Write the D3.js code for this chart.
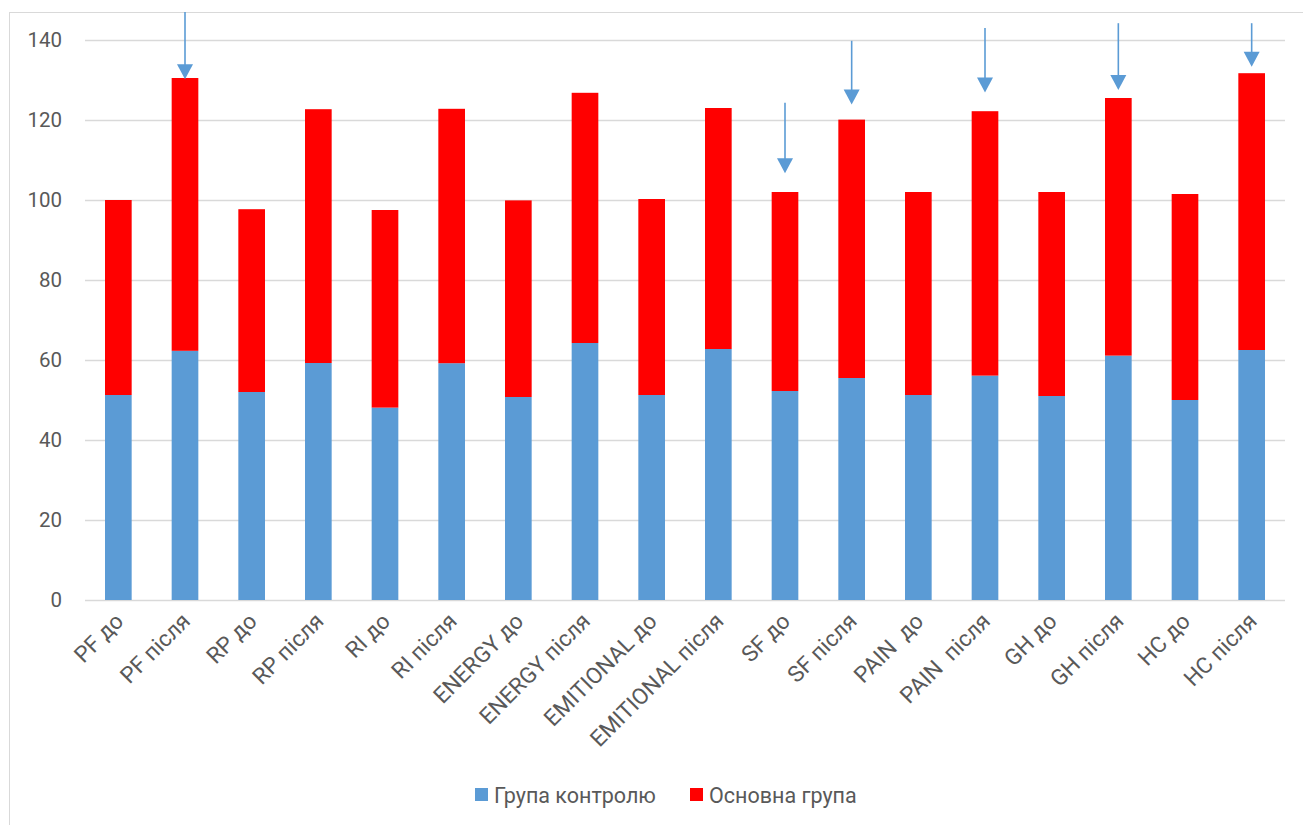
<!DOCTYPE html>
<html>
<head>
<meta charset="utf-8">
<script src="https://cdn.jsdelivr.net/npm/d3@7"></script>
<style>
  html, body { margin: 0; padding: 0; background: #fff; }
  svg { display: block; }
  text { font-family: Roboto, "Noto Sans", sans-serif; fill: #595959; white-space: pre; }
</style>
</head>
<body>
<svg id="chart" width="1303" height="825"></svg>
<script>
// ---- data ----
const categories = [
  "PF до", "PF після", "RP до", "RP після", "RI до", "RI після",
  "ENERGY до", "ENERGY після", "EMITIONAL до", "EMITIONAL після",
  "SF до", "SF після", "PAIN  до", "PAIN  після", "GH до", "GH після",
  "HC до", "HC після"
];
const controlGroup = [51.25, 62.3, 52.0, 59.25, 48.1, 59.2, 50.75, 64.25, 51.25, 62.75,
                      52.25, 55.5, 51.25, 56.1, 51.0, 61.1, 50.0, 62.5];
const mainGroup    = [48.75, 68.2, 45.7, 63.45, 49.4, 63.6, 49.15, 62.55, 49.0, 60.25,
                      49.75, 64.6, 50.75, 66.1, 51.0, 64.4, 51.5, 69.2];
const seriesNames = ["Група контролю", "Основна група"];
const yTicks = [0, 20, 40, 60, 80, 100, 120, 140];
// annotation arrows: category, start value, tip value
const arrowCats  = ["PF після", "SF до", "SF після", "PAIN  після", "GH після", "HC після"];
const arrowFrom  = [147, 124.3, 139.8, 143, 144.2, 144.2];
const arrowTo    = [130.2, 106.7, 123.9, 126.9, 127.5, 133.3];

// ---- layout ----
const colors = ["#5B9BD5", "#FF0000"];
const svg = d3.select("#chart");
const margin = { left: 85, right: 18, top: 40, bottom: 225 };
const W = 1303, H = 825;
const plotW = W - margin.left - margin.right; // 1200
const yBottom = 600, yTop = 40;

// chart border (left/top visible)
svg.append("rect")
  .attr("x", 9.5).attr("y", 12.5)
  .attr("width", 1400).attr("height", 900)
  .attr("fill", "none").attr("stroke", "#D9D9D9").attr("stroke-width", 1);

const x = d3.scaleBand().domain(categories)
  .range([margin.left, margin.left + plotW])
  .paddingInner(0.6).paddingOuter(0.3);
const y = d3.scaleLinear().domain([0, 140]).range([yBottom, yTop]);

// gridlines
svg.append("g").selectAll("line").data(yTicks).join("line")
  .attr("x1", margin.left).attr("x2", margin.left + plotW)
  .attr("y1", d => Math.round(y(d)) + 0.5).attr("y2", d => Math.round(y(d)) + 0.5)
  .attr("stroke", "#D9D9D9").attr("stroke-width", 1.3);

// y axis labels
const yAxis = d3.axisLeft(y).tickValues(yTicks).tickSize(0).tickPadding(0);
const yg = svg.append("g").attr("transform", `translate(62,0)`).call(yAxis);
yg.select(".domain").remove();
yg.selectAll("text").attr("font-size", "20.5px").style("fill", "#595959")
  .attr("font-family", "Roboto, 'Noto Sans', sans-serif");

// stacked bars
const rows = categories.map((c, i) => ({ cat: c, a: controlGroup[i], b: mainGroup[i] }));
const stack = d3.stack().keys(["a", "b"])(rows);
svg.append("g").selectAll("g").data(stack).join("g")
  .attr("fill", (d, i) => colors[i])
  .selectAll("rect").data(d => d).join("rect")
  .attr("x", d => x(d.data.cat))
  .attr("width", x.bandwidth())
  .attr("y", d => y(d[1]))
  .attr("height", d => y(d[0]) - y(d[1]));

// x axis labels
const xAxis = d3.axisBottom(x).tickSize(0).tickPadding(0);
const xg = svg.append("g").attr("transform", `translate(0,${yBottom})`).call(xAxis);
xg.select(".domain").remove();
xg.selectAll("text")
  .attr("font-size", "22.5px").style("fill", "#595959")
  .attr("font-family", "Roboto, 'Noto Sans', sans-serif")
  .style("white-space", "pre")
  .attr("text-anchor", "end")
  .attr("dy", "0.35em")
  .attr("transform", "translate(1,17) rotate(-45)");

// arrows
const arrowColor = "#5B9BD5";
const ag = svg.append("g");
arrowCats.forEach((c, i) => {
  const cx = x(c) + x.bandwidth() / 2;
  const y0 = y(arrowFrom[i]), yt = y(arrowTo[i]);
  const headH = 15, headW = 16;
  ag.append("line").attr("x1", cx).attr("x2", cx)
    .attr("y1", y0).attr("y2", yt - headH + 1)
    .attr("stroke", arrowColor).attr("stroke-width", 1.6);
  ag.append("path")
    .attr("d", `M${cx - headW / 2},${yt - headH} L${cx + headW / 2},${yt - headH} L${cx},${yt} Z`)
    .attr("fill", arrowColor);
});

// legend
const legend = svg.append("g");
const legendX = [475, 690];
seriesNames.forEach((name, i) => {
  legend.append("rect").attr("x", legendX[i]).attr("y", 788)
    .attr("width", 13).attr("height", 13).attr("fill", colors[i]);
  legend.append("text").attr("x", legendX[i] + 19).attr("y", 795)
    .attr("dy", "0.35em").attr("font-size", "21.5px").text(name);
});
</script>
</body>
</html>
